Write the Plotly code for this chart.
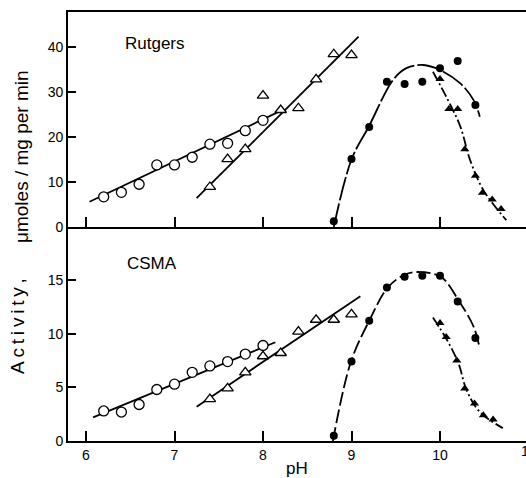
import plotly.graph_objects as go

# ---------------- data ----------------
# Rutgers (upper panel)
rut_circ_ph = [6.2, 6.4, 6.6, 6.8, 7.0, 7.2, 7.4, 7.6, 7.8, 8.0]
rut_circ_val = [6.7, 7.7, 9.5, 13.8, 13.8, 15.5, 18.4, 18.6, 21.4, 23.7]
rut_circ_fit_ph = [6.04, 8.2]
rut_circ_fit_val = [5.6, 25.8]

rut_tri_ph = [7.4, 7.6, 7.8, 8.0, 8.2, 8.4, 8.6, 8.8, 9.0]
rut_tri_val = [8.9, 15.1, 17.3, 29.2, 26.0, 26.4, 32.8, 38.4, 38.2]
rut_tri_fit_ph = [7.25, 9.08]
rut_tri_fit_val = [6.4, 42.3]

rut_dot_ph = [8.8, 9.0, 9.2, 9.4, 9.6, 9.8, 10.0, 10.2, 10.4]
rut_dot_val = [1.3, 15.1, 22.2, 32.3, 31.8, 32.3, 35.3, 36.9, 27.1]
rut_dot_fit_ph = [8.8, 9.0, 9.2, 9.47, 9.62, 9.81, 10.0, 10.23, 10.38, 10.45]
rut_dot_fit_val = [0.0, 15.0, 22.5, 32.7, 35.3, 36.0, 34.9, 31.9, 28.2, 24.5]

rut_ftri_ph = [10.0, 10.1, 10.2, 10.28, 10.4, 10.48, 10.59, 10.69]
rut_ftri_val = [32.9, 26.2, 26.2, 17.3, 11.4, 7.6, 6.1, 4.0]
rut_ftri_fit_ph = [9.92, 10.09, 10.23, 10.34, 10.49, 10.75]
rut_ftri_fit_val = [34.5, 28.2, 22.3, 14.9, 8.2, 1.5]

# CSMA (lower panel)
csma_circ_ph = [6.2, 6.4, 6.6, 6.8, 7.0, 7.2, 7.4, 7.6, 7.8, 8.0]
csma_circ_val = [2.8, 2.7, 3.4, 4.8, 5.3, 6.4, 7.0, 7.4, 8.1, 8.9]
csma_circ_fit_ph = [6.08, 8.14]
csma_circ_fit_val = [2.2, 9.2]

csma_tri_ph = [7.4, 7.6, 7.8, 8.0, 8.2, 8.4, 8.6, 8.8, 9.0]
csma_tri_val = [3.9, 4.9, 6.4, 7.9, 8.2, 10.2, 11.3, 11.3, 11.8]
csma_tri_fit_ph = [7.25, 9.1]
csma_tri_fit_val = [3.2, 13.5]

csma_dot_ph = [8.8, 9.0, 9.2, 9.4, 9.6, 9.8, 10.0, 10.2, 10.4]
csma_dot_val = [0.5, 7.4, 11.2, 14.3, 15.3, 15.4, 15.4, 13.0, 9.6]
csma_dot_fit_ph = [8.79, 8.99, 9.2, 9.41, 9.6, 9.74, 10.01, 10.21, 10.38, 10.45]
csma_dot_fit_val = [0.0, 7.3, 11.2, 14.3, 15.5, 15.75, 15.3, 13.1, 10.65, 8.6]

csma_ftri_ph = [10.0, 10.07, 10.19, 10.28, 10.39, 10.49, 10.6]
csma_ftri_val = [11.0, 9.7, 7.5, 4.9, 3.5, 2.4, 2.0]
csma_ftri_fit_ph = [9.92, 10.08, 10.21, 10.3, 10.45, 10.71]
csma_ftri_fit_val = [11.5, 9.4, 7.2, 4.75, 2.7, 1.2]

x_ticks = [6, 7, 8, 9, 10]
x_ticklabels = ["6", "7", "8", "9", "10"]
rut_yticks = [0, 10, 20, 30, 40]
csma_yticks = [0, 5, 10, 15]

# ---------------- layout geometry ----------------
W, H = 526, 478
L, R, T, B = 68, 526, 12, 441   # plot area in pixels
MID = 227                        # boundary between panels


def px(xp):
    return (xp - L) / (R - L)


def py(yp):
    return (B - yp) / (B - T)


FONT = "Liberation Sans"
LW = 1.8

fig = go.Figure()


def add_panel(yaxis, xaxis, circ, tri, dot, ftri, dot_dash):
    (cx, cy, cfx, cfy) = circ
    (tx, ty, tfx, tfy) = tri
    (dx, dy, dfx, dfy) = dot
    (fx, fy, ffx, ffy) = ftri
    line = dict(color="black", width=LW)
    # fitted lines
    fig.add_trace(go.Scatter(x=cfx, y=cfy, mode="lines", line=line,
                             xaxis=xaxis, yaxis=yaxis, showlegend=False))
    fig.add_trace(go.Scatter(x=tfx, y=tfy, mode="lines", line=line,
                             xaxis=xaxis, yaxis=yaxis, showlegend=False))
    fig.add_trace(go.Scatter(x=dfx, y=dfy, mode="lines", line_shape="spline",
                             line=dict(color="black", width=LW, dash=dot_dash),
                             xaxis=xaxis, yaxis=yaxis, showlegend=False))
    fig.add_trace(go.Scatter(x=ffx, y=ffy, mode="lines", line_shape="spline",
                             line=dict(color="black", width=LW,
                                       dash="10px,3px,2px,3px"),
                             xaxis=xaxis, yaxis=yaxis, showlegend=False))
    # markers
    fig.add_trace(go.Scatter(x=cx, y=cy, mode="markers", cliponaxis=False,
                             marker=dict(symbol="circle", size=10, color="white",
                                         line=dict(color="black", width=1.3)),
                             xaxis=xaxis, yaxis=yaxis, showlegend=False))
    fig.add_trace(go.Scatter(x=tx, y=ty, mode="markers", cliponaxis=False,
                             marker=dict(symbol="triangle-up", size=10, color="white",
                                         line=dict(color="black", width=1.3)),
                             xaxis=xaxis, yaxis=yaxis, showlegend=False))
    fig.add_trace(go.Scatter(x=dx, y=dy, mode="markers", cliponaxis=False,
                             marker=dict(symbol="circle", size=8, color="black"),
                             xaxis=xaxis, yaxis=yaxis, showlegend=False))
    fig.add_trace(go.Scatter(x=fx, y=fy, mode="markers", cliponaxis=False,
                             marker=dict(symbol="triangle-up", size=8, color="black"),
                             xaxis=xaxis, yaxis=yaxis, showlegend=False))


add_panel("y2", "x2",
          (rut_circ_ph, rut_circ_val, rut_circ_fit_ph, rut_circ_fit_val),
          (rut_tri_ph, rut_tri_val, rut_tri_fit_ph, rut_tri_fit_val),
          (rut_dot_ph, rut_dot_val, rut_dot_fit_ph, rut_dot_fit_val),
          (rut_ftri_ph, rut_ftri_val, rut_ftri_fit_ph, rut_ftri_fit_val),
          "24px,3px")
add_panel("y", "x",
          (csma_circ_ph, csma_circ_val, csma_circ_fit_ph, csma_circ_fit_val),
          (csma_tri_ph, csma_tri_val, csma_tri_fit_ph, csma_tri_fit_val),
          (csma_dot_ph, csma_dot_val, csma_dot_fit_ph, csma_dot_fit_val),
          (csma_ftri_ph, csma_ftri_val, csma_ftri_fit_ph, csma_ftri_fit_val),
          "14px,4px")

ppu_x = 88.5
x_range = [6 - (86 - L) / ppu_x, 6 + (R - 86) / ppu_x]
mid_frac = py(MID)

tickfont = dict(family=FONT, size=14, color="black")
common_x = dict(range=x_range, tickvals=x_ticks, ticks="inside", ticklen=10,
                tickwidth=1.5, tickcolor="black", showline=True, linecolor="black",
                linewidth=1.8, showgrid=False, zeroline=False, tickfont=tickfont)
common_y = dict(ticks="inside", ticklen=8, tickwidth=1.5, tickcolor="black",
                showline=True, linecolor="black", linewidth=1.8, showgrid=False,
                zeroline=False, tickfont=tickfont)

fig.update_layout(
    width=W, height=H,
    margin=dict(l=L, r=W - R, t=T, b=H - B, pad=0),
    paper_bgcolor="white", plot_bgcolor="white",
    font=dict(family=FONT, color="black"),
    xaxis=dict(**common_x, anchor="y", ticktext=x_ticklabels, domain=[0, 1]),
    xaxis2=dict(**common_x, anchor="y2", matches="x", showticklabels=False,
                mirror=True, domain=[0, 1]),
    yaxis=dict(**common_y, anchor="x", domain=[0, mid_frac],
               range=[0, (B - MID) / 10.73], tickvals=csma_yticks),
    yaxis2=dict(**common_y, anchor="x2", domain=[mid_frac, 1],
                range=[0, (MID - T) / 4.5], tickvals=rut_yticks),
)

ann = dict(showarrow=False, xref="paper", yref="paper",
           font=dict(family=FONT, size=17, color="black"))
ann19 = dict(showarrow=False, xref="paper", yref="paper",
             font=dict(family=FONT, size=19, color="black"))
fig.add_annotation(text="Rutgers", x=px(123), y=py(43), xanchor="left",
                   yanchor="middle", **ann)
fig.add_annotation(text="CSMA", x=px(125), y=py(263), xanchor="left",
                   yanchor="middle", **ann)
fig.add_annotation(text="pH", x=px(297), y=py(468), xanchor="center",
                   yanchor="middle", **ann)
fig.add_annotation(text="A\u2009c\u2009t\u2009i\u2009v\u2009i\u2009t\u2009y\u2009,",
                   x=px(17), y=py(326), xanchor="center", yanchor="middle",
                   textangle=-90, **ann19)
fig.add_annotation(text="\u03bcmoles / mg per min", x=px(21), y=py(157),
                   xanchor="center", yanchor="middle", textangle=-90, **ann19)
fig.add_annotation(text="11", x=px(528), y=py(451), xanchor="center",
                   yanchor="middle", showarrow=False, xref="paper", yref="paper",
                   font=tickfont)

fig.write_html("out.html")
